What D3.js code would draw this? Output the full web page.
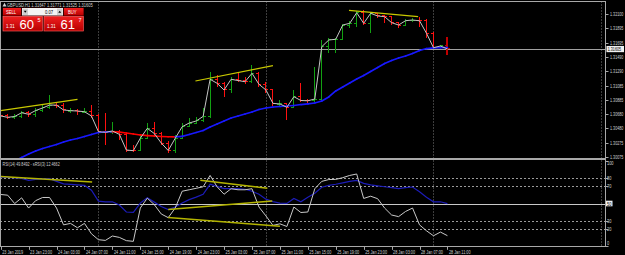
<!DOCTYPE html>
<html lang="en">

<head>
  <meta charset="utf-8">
  <title>GBPUSD,H1</title>
  <style>
    body {
      margin: 0;
      background: #000;
    }

    svg {
      display: block;
    }

    text {
      font-family: "Liberation Sans", Arial, sans-serif;
    }
  </style>
</head>

<body>
  <div id="chart"></div>
  <script src="https://d3js.org/d3.v7.min.js"></script>
  <script>

    // one value per H1 bar, bar 0 = first visible bar
    let opens = [1.30684, 1.30656, 1.30637, 1.30649, 1.30702, 1.30680, 1.30733, 1.30769, 1.30811, 1.30809,
      1.30726, 1.30731, 1.30708, 1.30716, 1.30656, 1.30433, 1.30425, 1.30443, 1.30396, 1.30174,
      1.30164, 1.30340, 1.30481, 1.30408, 1.30273, 1.30167, 1.30340, 1.30504, 1.30556, 1.30585,
      1.30649, 1.31175, 1.31119, 1.31024, 1.31175, 1.31158, 1.31141, 1.31260, 1.31104, 1.31024,
      1.30818, 1.30826, 1.30779, 1.30929, 1.30875, 1.30871, 1.30896, 1.31637, 1.31732, 1.31742,
      1.31944, 1.31968, 1.32118, 1.31968, 1.32110, 1.32072, 1.32062, 1.31977, 1.31944, 1.32005,
      1.32015, 1.32004, 1.31827, 1.31623, 1.31647];

    let highs = [1.30712, 1.30684, 1.30684, 1.30726, 1.30726, 1.30769, 1.30826, 1.30953, 1.30854, 1.30840,
      1.30769, 1.30755, 1.30769, 1.30811, 1.30684, 1.30698, 1.30571, 1.30457, 1.30415, 1.30245,
      1.30387, 1.30557, 1.30571, 1.30429, 1.30302, 1.30387, 1.30557, 1.30627, 1.30641, 1.30769,
      1.31279, 1.31236, 1.31137, 1.31208, 1.31279, 1.31208, 1.31378, 1.31279, 1.31137, 1.31038,
      1.30882, 1.30840, 1.31024, 1.31123, 1.30897, 1.31350, 1.31732, 1.31760, 1.31760, 1.31958,
      1.32001, 1.32142, 1.32157, 1.32128, 1.32114, 1.32086, 1.32072, 1.31987, 1.32029, 1.32043,
      1.32057, 1.32029, 1.31845, 1.31661, 1.31771];

    let lows = [1.30613, 1.30613, 1.30613, 1.30627, 1.30641, 1.30641, 1.30712, 1.30755, 1.30769, 1.30698,
      1.30698, 1.30670, 1.30698, 1.30627, 1.30415, 1.30245, 1.30401, 1.30316, 1.30146, 1.30146,
      1.30155, 1.30330, 1.30358, 1.30245, 1.30132, 1.30132, 1.30330, 1.30500, 1.30542, 1.30571,
      1.30627, 1.31066, 1.30925, 1.30981, 1.31137, 1.31109, 1.31123, 1.31066, 1.30981, 1.30797,
      1.30783, 1.30599, 1.30769, 1.30854, 1.30826, 1.30854, 1.30882, 1.31548, 1.31548, 1.31732,
      1.31902, 1.31916, 1.31944, 1.31831, 1.32043, 1.31973, 1.31944, 1.31902, 1.31930, 1.31987,
      1.31916, 1.31760, 1.31605, 1.31618, 1.31525];

    let closes = [1.30656, 1.30637, 1.30649, 1.30702, 1.30680, 1.30733, 1.30769, 1.30811, 1.30809, 1.30741,
      1.30731, 1.30726, 1.30716, 1.30656, 1.30433, 1.30425, 1.30443, 1.30396, 1.30174, 1.30164,
      1.30340, 1.30481, 1.30408, 1.30273, 1.30167, 1.30340, 1.30504, 1.30556, 1.30585, 1.30649,
      1.31175, 1.31119, 1.31024, 1.31175, 1.31158, 1.31141, 1.31260, 1.31104, 1.31024, 1.30835,
      1.30826, 1.30779, 1.30929, 1.30875, 1.30871, 1.30896, 1.31637, 1.31732, 1.31742, 1.31944,
      1.31968, 1.32118, 1.31968, 1.32110, 1.32072, 1.32062, 1.31977, 1.31944, 1.32005, 1.32015,
      1.32004, 1.31827, 1.31623, 1.31647, 1.31605];

    let maValues = [1.29933, 1.29976, 1.30018, 1.30068, 1.30117, 1.30160, 1.30195, 1.30224, 1.30252, 1.30287,
      1.30316, 1.30337, 1.30365, 1.30394, 1.30422, 1.30429, 1.30433, 1.30426, 1.30415, 1.30401,
      1.30387, 1.30379, 1.30372, 1.30365, 1.30362, 1.30361, 1.30368, 1.30394, 1.30422, 1.30450,
      1.30500, 1.30542, 1.30585, 1.30627, 1.30656, 1.30684, 1.30712, 1.30748, 1.30769, 1.30783,
      1.30790, 1.30797, 1.30804, 1.30818, 1.30826, 1.30840, 1.30868, 1.30925, 1.31010, 1.31066,
      1.31123, 1.31180, 1.31229, 1.31286, 1.31342, 1.31399, 1.31442, 1.31477, 1.31505, 1.31541,
      1.31583, 1.31611, 1.31620, 1.31623, 1.31624];

    let rsiValues = [80.8, 80.4, 79.8, 79.3, 77.0, 78.1, 78.7, 78.9, 75.8, 72.9,
      72.4, 71.8, 71.2, 65.4, 52.8, 52.0, 52.0, 48.2, 40.1, 39.7,
      50.5, 56.6, 51.6, 46.4, 43.0, 45.9, 50.5, 54.5, 57.4, 60.8,
      72.4, 70.0, 67.4, 67.4, 67.4, 66.6, 64.3, 60.8, 55.1, 52.2,
      50.5, 50.1, 55.9, 52.0, 57.4, 62.0, 68.9, 71.2, 72.4, 74.1,
      75.8, 77.0, 73.5, 71.8, 70.6, 69.5, 68.4, 67.4, 68.4, 69.2,
      63.7, 57.4, 52.0, 52.0, 49.8];

    let fastValues = [60.5, 59.7, 49.9, 56.6, 44.7, 53.3, 57.0, 57.0, 44.7, 25.1,
      26.8, 21.7, 26.8, 14.7, 7.8, 7.0, 12.1, 10.5, 6.7, 5.9,
      44.7, 56.2, 48.7, 37.8, 33.5, 44.7, 64.3, 66.0, 67.7, 69.5,
      82.7, 69.5, 60.8, 67.2, 66.0, 66.0, 67.2, 45.9, 35.5, 24.5,
      26.3, 23.2, 45.9, 39.5, 40.1, 67.2, 75.8, 77.9, 78.1, 80.1,
      82.7, 84.4, 55.9, 58.5, 55.6, 44.7, 36.6, 34.7, 40.7, 44.7,
      25.1, 18.2, 12.4, 16.7, 12.5];

    // a time label every 4 bars
    let timeLabels = ["23 Jan 2019", "23 Jan 23:00", "24 Jan 03:00", "24 Jan 07:00", "24 Jan 11:00",
      "24 Jan 15:00", "24 Jan 19:00", "24 Jan 23:00", "25 Jan 03:00", "25 Jan 07:00", "25 Jan 11:00",
      "25 Jan 15:00", "25 Jan 19:00", "25 Jan 23:00", "28 Jan 03:00", "28 Jan 07:00", "28 Jan 11:00"];

    let priceTicks = [1.32100, 1.31895, 1.31695, 1.31490, 1.31290, 1.31085, 1.30885, 1.30680, 1.30480, 1.30275, 1.30075];
    let bid = 1.31605;
    let rsiTicks = [100, 80, 70, 50, 30, 20, 0];
    let rsiDotted = [80, 70, 30, 20];
    let separators = [14, 38, 62, 86];

    // drawn trend lines: [bar, price] / [bar, rsi]
    let priceTrend = [[[0, 1.30731], [11, 1.30892]], [[27.9, 1.31151], [39, 1.31368]], [[49.9, 1.32152], [59.8, 1.32062]]];
    let rsiTrend = [[[0, 81.6], [13.1, 75.0]], [[28.6, 77.0], [38.2, 67.7]], [[24, 43.0], [38.9, 52.8]], [[24, 33.8], [40, 23.4]]];

    let W = 625, H = 255;
    let right = 605.5;
    let mainTop = 1.5, mainBottom = 158.3;
    let rsiTop = 160.2, rsiBottom = 246.8;

    let svg = d3.select("#chart").append("svg")
      .attr("width", W)
      .attr("height", H);

    let defs = svg.append("defs");
    defs.append("clipPath").attr("id", "clipMain").append("rect")
      .attr("x", 0).attr("y", mainTop).attr("width", right).attr("height", mainBottom - mainTop);
    defs.append("clipPath").attr("id", "clipRsi").append("rect")
      .attr("x", 0).attr("y", rsiTop).attr("width", right).attr("height", rsiBottom - rsiTop);
    let grad = defs.append("linearGradient").attr("id", "redGrad").attr("x1", 0).attr("x2", 0).attr("y1", 0).attr("y2", 1);
    grad.append("stop").attr("offset", "0%").attr("stop-color", "#f02020");
    grad.append("stop").attr("offset", "100%").attr("stop-color", "#b80000");

    svg.append("rect").attr("width", W).attr("height", H).attr("fill", "#000");

    let x = d3.scaleLinear().domain([0, 86]).range([0.7, 601]);
    let y = d3.scaleLinear().domain([1.30075, 1.32100]).range([157, 14]);
    let yr = d3.scaleLinear().domain([0, 100]).range([246.4, 160.6]);

    let bars = d3.range(closes.length);

    // narrow the small terminal font horizontally
    function squeeze(sel, k) {
      sel.each(function () {
        let t = d3.select(this);
        let tx = +t.attr("x"), ty = +t.attr("y");
        t.attr("x", 0).attr("y", 0)
          .attr("transform", "translate(" + tx + "," + ty + ") scale(" + k + ",1)");
      });
    }

    // period separators
    svg.append("g").selectAll("line")
      .data(separators)
      .join("line")
      .attr("x1", d => Math.round(x(d)) + 0.5)
      .attr("x2", d => Math.round(x(d)) + 0.5)
      .attr("y1", mainTop)
      .attr("y2", rsiBottom)
      .attr("stroke", "#7a7a7a")
      .attr("stroke-dasharray", "1,2");

    // ---- main pane ----
    let main = svg.append("g").attr("clip-path", "url(#clipMain)");

    main.append("line")
      .attr("x1", 0).attr("x2", right)
      .attr("y1", Math.round(y(bid)) + 0.5).attr("y2", Math.round(y(bid)) + 0.5)
      .attr("stroke", "#a0a0a0");

    let barG = main.append("g").attr("shape-rendering", "crispEdges");
    let last = closes.length - 1;
    let barColor = i => closes[i] >= opens[i] ? "#12a012" : (i == last ? "#c00000" : "#ff1010");

    barG.selectAll(".hl")
      .data(bars)
      .join("line")
      .attr("x1", i => x(i)).attr("x2", i => x(i))
      .attr("y1", i => y(highs[i])).attr("y2", i => y(lows[i]))
      .attr("stroke", barColor)
      .attr("stroke-width", i => i == last ? 2 : 1);
    barG.selectAll(".op")
      .data(bars)
      .join("line")
      .attr("x1", i => x(i) - 2.5).attr("x2", i => x(i))
      .attr("y1", i => y(opens[i])).attr("y2", i => y(opens[i]))
      .attr("stroke", barColor);
    barG.selectAll(".cl")
      .data(bars)
      .join("line")
      .attr("x1", i => x(i)).attr("x2", i => x(i) + 2.5)
      .attr("y1", i => y(closes[i])).attr("y2", i => y(closes[i]))
      .attr("stroke", barColor);

    // moving average, red while falling
    main.append("g").selectAll("line")
      .data(bars.slice(1))
      .join("line")
      .attr("x1", i => x(i - 1)).attr("x2", i => x(i))
      .attr("y1", i => y(maValues[i - 1])).attr("y2", i => y(maValues[i]))
      .attr("stroke", i => maValues[i] < maValues[i - 1] ? "#ff0000" : "#1818ff")
      .attr("stroke-width", 1.7)
      .attr("stroke-linecap", "round");

    main.append("path")
      .datum(bars)
      .attr("fill", "none")
      .attr("stroke", "#c4c4c4")
      .attr("stroke-width", 1)
      .attr("d", d3.line().x(i => x(i)).y(i => y(closes[i])));

    main.append("g").selectAll("line")
      .data(priceTrend)
      .join("line")
      .attr("x1", d => x(d[0][0])).attr("y1", d => y(d[0][1]))
      .attr("x2", d => x(d[1][0])).attr("y2", d => y(d[1][1]))
      .attr("stroke", "#c8c800")
      .attr("stroke-width", 1.2);

    // ---- RSI pane ----
    let rsi = svg.append("g").attr("clip-path", "url(#clipRsi)");

    rsi.append("g").selectAll("line")
      .data(rsiDotted)
      .join("line")
      .attr("x1", 0).attr("x2", right)
      .attr("y1", d => Math.round(yr(d)) + 0.5).attr("y2", d => Math.round(yr(d)) + 0.5)
      .attr("stroke", "#9a9a9a")
      .attr("stroke-dasharray", "2,2");
    rsi.append("line")
      .attr("x1", 0).attr("x2", right)
      .attr("y1", Math.round(yr(50)) + 0.5).attr("y2", Math.round(yr(50)) + 0.5)
      .attr("stroke", "#c8c8c8")
      .attr("stroke-width", 1.2);

    rsi.append("path")
      .datum(bars)
      .attr("fill", "none")
      .attr("stroke", "#1c1cb8")
      .attr("stroke-width", 1.2)
      .attr("d", d3.line().x(i => x(i)).y(i => yr(rsiValues[i])));

    rsi.append("path")
      .datum(bars)
      .attr("fill", "none")
      .attr("stroke", "#c8c8c8")
      .attr("stroke-width", 1)
      .attr("d", d3.line().x(i => x(i)).y(i => yr(fastValues[i])));

    rsi.append("g").selectAll("line")
      .data(rsiTrend)
      .join("line")
      .attr("x1", d => x(d[0][0])).attr("y1", d => yr(d[0][1]))
      .attr("x2", d => x(d[1][0])).attr("y2", d => yr(d[1][1]))
      .attr("stroke", "#b4b400")
      .attr("stroke-width", 1.5);

    // ---- frame ----
    let frame = svg.append("g").attr("stroke", "#a8a8a8").attr("shape-rendering", "crispEdges");
    frame.append("line").attr("x1", 0).attr("x2", right).attr("y1", mainTop).attr("y2", mainTop);
    frame.append("line").attr("x1", 0.5).attr("x2", 0.5).attr("y1", mainTop).attr("y2", rsiBottom);
    frame.append("line").attr("x1", right).attr("x2", right).attr("y1", mainTop).attr("y2", rsiBottom);
    frame.append("line").attr("x1", 0).attr("x2", right).attr("y1", 159.3).attr("y2", 159.3).attr("stroke-width", 2);
    frame.append("line").attr("x1", 0).attr("x2", right).attr("y1", rsiBottom).attr("y2", rsiBottom);

    // price axis
    let axis = svg.append("g");
    axis.selectAll("line")
      .data(priceTicks)
      .join("line")
      .attr("x1", right).attr("x2", right + 3)
      .attr("y1", d => Math.round(y(d)) + 0.5).attr("y2", d => Math.round(y(d)) + 0.5)
      .attr("stroke", "#a8a8a8");
    axis.selectAll("text")
      .data(priceTicks)
      .join("text")
      .attr("x", right + 4.5)
      .attr("y", d => y(d) + 2)
      .attr("fill", "#d0d0d0")
      .attr("font-size", 5.6)
      .text(d => d.toFixed(5))
      .call(squeeze, 0.66);

    axis.append("rect")
      .attr("x", right + 1).attr("y", y(bid) - 3)
      .attr("width", 17.5).attr("height", 6.2)
      .attr("fill", "#f0f0f0");
    axis.append("text")
      .attr("x", right + 2.2).attr("y", y(bid) + 2)
      .attr("fill", "#000")
      .attr("font-size", 5.6)
      .text(bid.toFixed(5))
      .call(squeeze, 0.66);

    // rsi axis
    let raxis = svg.append("g");
    raxis.selectAll("line")
      .data(rsiTicks)
      .join("line")
      .attr("x1", right).attr("x2", right + 3)
      .attr("y1", d => Math.round(yr(d)) + 0.5).attr("y2", d => Math.round(yr(d)) + 0.5)
      .attr("stroke", "#a8a8a8");
    raxis.append("rect")
      .attr("x", right + 0.5).attr("y", yr(50) - 2.8)
      .attr("width", 6.5).attr("height", 5.6)
      .attr("fill", "#f0f0f0");
    raxis.selectAll("text")
      .data(rsiTicks)
      .join("text")
      .attr("x", right + 1.5)
      .attr("y", d => d == 100 ? yr(d) + 4.5 : d == 0 ? yr(d) - 1 : yr(d) + 2)
      .attr("fill", d => d == 50 ? "#000" : "#d0d0d0")
      .attr("font-size", 5.6)
      .text(d => d)
      .call(squeeze, 0.7);

    // time axis
    let tg = svg.append("g");
    tg.selectAll("line")
      .data(timeLabels)
      .join("line")
      .attr("x1", (d, k) => Math.round(x(k * 4)) + 0.5).attr("x2", (d, k) => Math.round(x(k * 4)) + 0.5)
      .attr("y1", rsiBottom).attr("y2", rsiBottom + 3)
      .attr("stroke", "#a8a8a8");
    tg.selectAll("text")
      .data(timeLabels)
      .join("text")
      .attr("x", (d, k) => x(k * 4) + 1.5)
      .attr("y", 253.5)
      .attr("fill", "#d0d0d0")
      .attr("font-size", 5.6)
      .text(d => d)
      .call(squeeze, 0.68);

    // pane headers
    svg.append("text")
      .attr("x", 7).attr("y", 6.5)
      .attr("fill", "#d0d0d0")
      .attr("font-size", 5.6)
      .text("GBPUSD,H1  1.31647 1.31771 1.31525 1.31605")
      .call(squeeze, 0.72);
    svg.append("path")
      .attr("d", "M2.5,6.5 L4.5,2.8 L6.5,6.5 Z")
      .attr("fill", "#d0d0d0");
    svg.append("text")
      .attr("x", 2.5).attr("y", 165.8)
      .attr("fill", "#d0d0d0")
      .attr("font-size", 5.6)
      .text("RSI(14) 49.8492 - sRSI(3) 12.4662")
      .call(squeeze, 0.66);

    // one click trading panel
    let panel = svg.append("g");
    panel.append("rect").attr("x", 2.5).attr("y", 7.5).attr("width", 81.5).attr("height", 24).attr("fill", "#3a0000");
    panel.append("rect").attr("x", 3).attr("y", 8).attr("width", 18).attr("height", 7.5).attr("fill", "url(#redGrad)");
    panel.append("rect").attr("x", 64).attr("y", 8).attr("width", 19.5).attr("height", 7.5).attr("fill", "url(#redGrad)");
    panel.append("rect").attr("x", 22).attr("y", 8).attr("width", 41).attr("height", 7.5).attr("fill", "#f4f4f4");
    panel.append("rect").attr("x", 22.5).attr("y", 8.5).attr("width", 5.5).attr("height", 6.5).attr("fill", "#cfcfcf");
    panel.append("rect").attr("x", 57).attr("y", 8.5).attr("width", 5.5).attr("height", 6.5).attr("fill", "#cfcfcf");
    panel.append("path").attr("d", "M23.8,10.8 L26.7,10.8 L25.25,12.8 Z").attr("fill", "#000");
    panel.append("path").attr("d", "M58.3,12.8 L61.2,12.8 L59.75,10.8 Z").attr("fill", "#000");
    panel.append("text").attr("x", 45).attr("y", 13.6).attr("fill", "#000").attr("font-size", 5.2).text("0.07").call(squeeze, 0.8);
    panel.append("text").attr("x", 6).attr("y", 13.8).attr("fill", "#fff").attr("font-size", 5.2).text("SELL").call(squeeze, 0.8);
    panel.append("text").attr("x", 68).attr("y", 13.8).attr("fill", "#fff").attr("font-size", 5.2).text("BUY").call(squeeze, 0.8);

    let boxes = [{ x0: 3, big: "60", sup: "5" }, { x0: 44, big: "61", sup: "7" }];
    boxes.forEach(b => {
      panel.append("rect").attr("x", b.x0).attr("y", 16.3).attr("width", 39.5).attr("height", 14.7)
        .attr("fill", "url(#redGrad)").attr("stroke", "#ff7a7a").attr("stroke-width", 0.5);
      panel.append("text").attr("x", b.x0 + 3).attr("y", 27.8).attr("fill", "#fff").attr("font-size", 5.2)
        .text("1.31").call(squeeze, 0.85);
      panel.append("text").attr("x", b.x0 + 16.5).attr("y", 29).attr("fill", "#fff").attr("font-size", 13)
        .text(b.big);
      panel.append("text").attr("x", b.x0 + 34.5).attr("y", 21.5).attr("fill", "#fff").attr("font-size", 5.5)
        .text(b.sup);
    });

  </script>
</body>

</html>
